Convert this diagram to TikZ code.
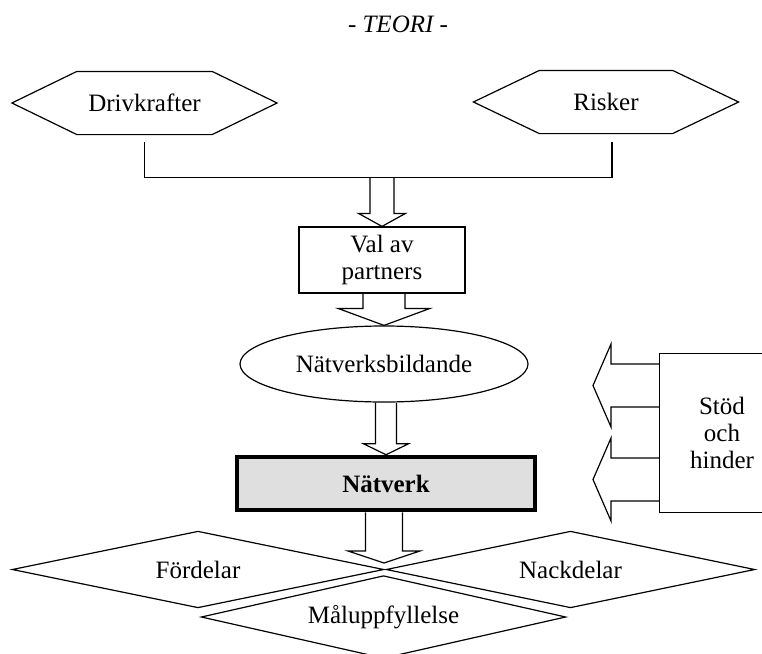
\documentclass[tikz,border=0pt]{standalone}
\usepackage{fontspec}
\setmainfont{Liberation Serif}
\usetikzlibrary{shapes.geometric,calc}
\tikzset{
  base/.style={font=\fontsize{25}{27}\selectfont},
  area/.style 2 args={base, draw=none, rectangle, inner sep=0pt, minimum width=#1, minimum height=#2},
  valbox/.style={base, draw, rectangle, inner sep=0pt, minimum width=166pt, minimum height=66pt, align=center},
  ellip/.style={base, draw, ellipse, inner sep=0pt, minimum width=288pt, minimum height=76pt},
  natbox/.style={base, draw, line width=4.5pt, fill=gray!25, rectangle, inner sep=0pt, minimum width=298pt, minimum height=53pt},
  sidebox/.style={base, rectangle, inner sep=0pt, minimum width=124pt, minimum height=158pt, align=center},
  blockarr/.style={draw, line width=1.2pt, line join=miter}
}
\newcommand\dnarrow[5]{\draw[blockarr] let \p1=(#1), \p2=(#2) in
  (\x2-#3,\y1) -- (\x2-#3,\y2+#5) -- (\x2-#4,\y2+#5) -- (\x2,\y2) -- (\x2+#4,\y2+#5) -- (\x2+#3,\y2+#5) -- (\x2+#3,\y1);}
\newcommand\lfarrow[5]{\draw[blockarr] let \p1=(#1), \p2=(#2) in
  (\x1,\y2+#3) -- (\x2+#5,\y2+#3) -- (\x2+#5,\y2+#4) -- (\x2,\y2) -- (\x2+#5,\y2-#4) -- (\x2+#5,\y2-#3) -- (\x1,\y2-#3);}
\begin{document}
\begin{tikzpicture}[x=1pt,y=-1pt,line width=1.2pt]
\useasboundingbox (0,0) rectangle (762,653);
% title
\node[base, font=\fontsize{25}{27}\selectfont\itshape] (title) at (398,24) {- TEORI -};
% hexagons
\node[area={264pt}{62pt}] (drv) at (144.5,103) {Drivkrafter};
\node[area={264pt}{62pt}] (risk) at (606,102) {Risker};
\draw (drv.west) -- ([xshift=65pt]drv.north west) -- ([xshift=-65pt]drv.north east) -- (drv.east)
  -- ([xshift=-65pt]drv.south east) -- ([xshift=65pt]drv.south west) -- cycle;
\draw (risk.west) -- ([xshift=66pt]risk.north west) -- ([xshift=-66pt]risk.north east) -- (risk.east)
  -- ([xshift=-66pt]risk.south east) -- ([xshift=66pt]risk.south west) -- cycle;
% joining line
\draw ([yshift=-7pt]drv.south) |- ([xshift=6pt,yshift=-44pt]risk.south) -- ([xshift=6pt,yshift=-8pt]risk.south);
\coordinate (j) at (383,177);
% middle chain
\node[valbox] (valp) at (382,260) {Val av\\partners};
\node[ellip] (ell) at (384,364) {Nätverksbildande};
\node[natbox] (nat) at (386,483.5) {\bfseries Nätverk};
\dnarrow{j}{valp.north}{12pt}{23.5pt}{13pt}
\dnarrow{valp.south}{ell.north}{21pt}{46pt}{17pt}
\dnarrow{ell.south}{nat.north}{10.5pt}{22.5pt}{11pt}
% side box (its right side runs off the picture)
\node[sidebox] (stod) at (722,433) {Stöd\\och\\hinder};
\draw (stod.north west) rectangle ([xshift=60pt]stod.south east);
\coordinate (t1) at (593,385.5);
\coordinate (t2) at (593,479.5);
\lfarrow{stod.west}{t1}{21.5pt}{41.5pt}{18pt}
\lfarrow{stod.west}{t2}{21.5pt}{41.5pt}{18pt}
% diamonds
\node[area={370pt}{75pt}] (ford) at (198,569.5) {Fördelar};
\node[area={367pt}{75pt}] (nack) at (570.5,569.5) {Nackdelar};
\node[area={363pt}{81pt}] (mal) at (383.5,617) {Måluppfyllelse};
\draw (ford.west) -- (ford.north) -- (ford.east) -- (ford.south) -- cycle;
\draw (nack.west) -- (nack.north) -- (nack.east) -- (nack.south) -- cycle;
\draw (mal.west) -- (mal.north) -- (mal.east) -- (mal.south) -- cycle;
\coordinate (dtip) at (384,563);
\dnarrow{nat.south}{dtip}{18.5pt}{36pt}{12pt}
\end{tikzpicture}
\end{document}
